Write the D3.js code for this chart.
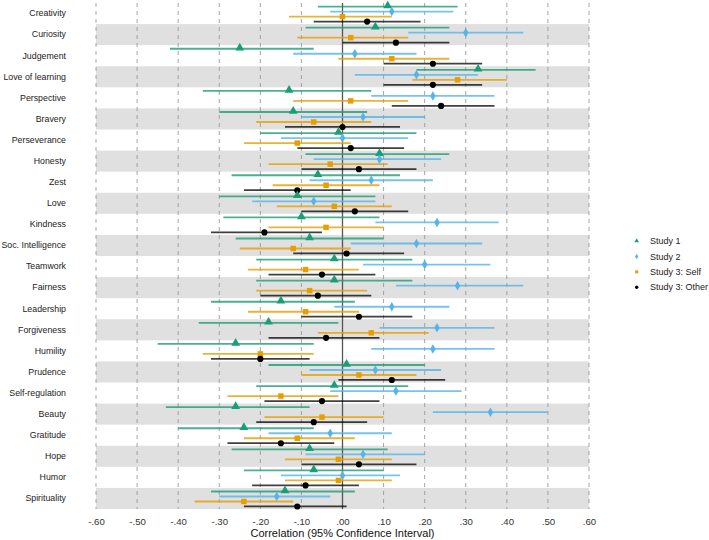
<!DOCTYPE html>
<html lang="en">
<head>
<meta charset="utf-8">
<title>Character strengths forest plot</title>
<script src="https://cdn.jsdelivr.net/npm/d3@7"></script>
<style>
  body { margin: 0; background: #fff; }
  svg { font-family: "Liberation Sans", Arial, sans-serif; }
</style>
</head>
<body>
<script>
// strengths, top to bottom
var strengths = ["Creativity", "Curiosity", "Judgement", "Love of learning", "Perspective",
  "Bravery", "Perseverance", "Honesty", "Zest", "Love", "Kindness", "Soc. Intelligence",
  "Teamwork", "Fairness", "Leadership", "Forgiveness", "Humility", "Prudence",
  "Self-regulation", "Beauty", "Gratitude", "Hope", "Humor", "Spirituality"];

var studies = ["Study 1", "Study 2", "Study 3: Self", "Study 3: Other"];

// Study 1
var s1Est = [0.11, 0.08, -0.25, 0.33, -0.13, -0.12, -0.01, 0.09, -0.06, -0.11, -0.10, -0.08,
  -0.02, -0.02, -0.15, -0.18, -0.26, 0.01, -0.02, -0.26, -0.24, -0.08, -0.07, -0.14];
var s1Lo = [-0.06, -0.09, -0.42, 0.18, -0.34, -0.30, -0.20, -0.09, -0.27, -0.30, -0.29, -0.26,
  -0.21, -0.21, -0.32, -0.35, -0.45, -0.18, -0.21, -0.43, -0.40, -0.27, -0.24, -0.32];
var s1Hi = [0.28, 0.26, -0.07, 0.47, 0.07, 0.06, 0.18, 0.26, 0.14, 0.08, 0.09, 0.10,
  0.17, 0.17, 0.03, -0.01, -0.07, 0.20, 0.16, -0.08, -0.07, 0.11, 0.10, 0.03];

// Study 2
var s2Est = [0.12, 0.30, 0.03, 0.18, 0.22, 0.05, 0.00, 0.09, 0.07, -0.07, 0.23, 0.18,
  0.20, 0.28, 0.12, 0.23, 0.22, 0.08, 0.13, 0.36, -0.03, 0.05, 0.00, -0.16];
var s2Lo = [-0.03, 0.16, -0.12, 0.03, 0.07, -0.10, -0.15, -0.07, -0.08, -0.22, 0.08, 0.02,
  0.05, 0.13, -0.02, 0.09, 0.07, -0.08, -0.03, 0.22, -0.18, -0.09, -0.15, -0.30];
var s2Hi = [0.27, 0.44, 0.18, 0.33, 0.37, 0.20, 0.16, 0.24, 0.22, 0.08, 0.38, 0.34,
  0.36, 0.44, 0.26, 0.37, 0.37, 0.24, 0.29, 0.50, 0.12, 0.20, 0.14, -0.03];

// Study 3: Self
var selfEst = [0.00, 0.02, 0.12, 0.28, 0.02, -0.07, -0.11, -0.03, -0.04, -0.02, -0.04, -0.12,
  -0.09, -0.08, -0.09, 0.07, -0.20, 0.04, -0.15, -0.05, -0.11, -0.01, -0.01, -0.24];
var selfLo = [-0.13, -0.11, -0.01, 0.17, -0.12, -0.21, -0.24, -0.18, -0.17, -0.16, -0.18, -0.25,
  -0.23, -0.21, -0.23, -0.06, -0.34, -0.10, -0.28, -0.19, -0.24, -0.14, -0.14, -0.36];
var selfHi = [0.12, 0.16, 0.26, 0.40, 0.16, 0.07, 0.02, 0.11, 0.09, 0.12, 0.10, 0.02,
  0.04, 0.06, 0.04, 0.21, -0.07, 0.18, -0.01, 0.10, 0.03, 0.12, 0.12, -0.12];

// Study 3: Other
var otherEst = [0.06, 0.13, 0.22, 0.22, 0.24, 0.00, 0.02, 0.04, -0.11, 0.03, -0.19, 0.01,
  -0.05, -0.06, 0.04, -0.04, -0.20, 0.12, -0.05, -0.07, -0.15, 0.04, -0.09, -0.11];
var otherLo = [-0.07, 0.00, 0.10, 0.10, 0.12, -0.14, -0.11, -0.10, -0.24, -0.10, -0.32, -0.12,
  -0.18, -0.20, -0.10, -0.18, -0.32, -0.01, -0.19, -0.21, -0.28, -0.10, -0.22, -0.24];
var otherHi = [0.19, 0.26, 0.34, 0.34, 0.37, 0.14, 0.15, 0.18, 0.02, 0.16, -0.05, 0.15,
  0.08, 0.07, 0.17, 0.09, -0.08, 0.25, 0.09, 0.06, -0.02, 0.18, 0.04, 0.01];

var xTicks = [-0.6, -0.5, -0.4, -0.3, -0.2, -0.1, 0, 0.1, 0.2, 0.3, 0.4, 0.5, 0.6];

var colors = ["#1b9e77", "#56b4e9", "#e69f00", "#000000"];
var shapes = [d3.symbolTriangle, d3.symbolDiamond, d3.symbolSquare, d3.symbolCircle];
var sizes = [34, 26, 30, 30];

var est = [s1Est, s2Est, selfEst, otherEst];
var lo = [s1Lo, s2Lo, selfLo, otherLo];
var hi = [s1Hi, s2Hi, selfHi, otherHi];

var data = [];
strengths.forEach(function(s, i) {
  studies.forEach(function(st, j) {
    data.push({ strength: s, study: st, k: j, est: est[j][i], lo: lo[j][i], hi: hi[j][i] });
  });
});

var width = 709, height = 540;
var svg = d3.select("body").append("svg")
  .attr("width", width)
  .attr("height", height);

var x = d3.scaleLinear().domain([-0.6, 0.6]).range([96, 589]);
var y = d3.scaleBand().domain(strengths).range([3, 509]);
var yIn = d3.scalePoint().domain(studies)
  .range([y.bandwidth() * 0.17, y.bandwidth() * 0.88]);

// alternating bands
svg.append("g").selectAll("rect")
  .data(strengths.filter(function(d, i) { return i % 2 == 1; }))
  .enter().append("rect")
  .attr("x", x(-0.6))
  .attr("width", x(0.6) - x(-0.6))
  .attr("y", function(d) { return y(d); })
  .attr("height", y.bandwidth())
  .attr("fill", "#e0e0e0");

// dashed grid
svg.append("g").selectAll("line")
  .data(xTicks)
  .enter().append("line")
  .attr("x1", function(d) { return x(d); })
  .attr("x2", function(d) { return x(d); })
  .attr("y1", 3).attr("y2", 509)
  .attr("stroke", "#9a9a9a")
  .attr("stroke-width", 0.9)
  .attr("stroke-dasharray", "4,4");

// zero line
svg.append("line")
  .attr("x1", x(0)).attr("x2", x(0))
  .attr("y1", 3).attr("y2", 509)
  .attr("stroke", "#555")
  .attr("stroke-width", 1.3);

function yPos(d) { return y(d.strength) + yIn(d.study); }

// CIs
svg.append("g").selectAll("line")
  .data(data)
  .enter().append("line")
  .attr("x1", function(d) { return x(d.lo); })
  .attr("x2", function(d) { return x(d.hi); })
  .attr("y1", yPos).attr("y2", yPos)
  .attr("stroke", function(d) { return colors[d.k]; })
  .attr("stroke-opacity", function(d) { return d.k == 3 ? 0.75 : 0.8; })
  .attr("stroke-width", 1.8);

// points
svg.append("g").selectAll("path")
  .data(data)
  .enter().append("path")
  .attr("transform", function(d) { return "translate(" + x(d.est) + "," + (yPos(d) + (d.k == 0 ? -0.8 : 0)) + ")"; })
  .attr("d", function(d) { return d3.symbol().type(shapes[d.k]).size(sizes[d.k])(); })
  .attr("fill", function(d) { return colors[d.k]; });

// row labels
var yAxis = d3.axisLeft(y).tickSize(0).tickPadding(30);
var gy = svg.append("g").attr("transform", "translate(96,0)").call(yAxis);
gy.select(".domain").remove();
gy.selectAll("text").attr("font-size", 8.8).attr("fill", "#222")
  .attr("font-family", "Liberation Sans, Arial, sans-serif");

// x axis
function fmt(v) {
  var s = d3.format(".2f")(Math.abs(v)).replace(/^0/, "");
  return (v < -1e-9 ? "-" : "") + s;
}
var xAxis = d3.axisBottom(x).tickValues(xTicks).tickFormat(fmt).tickSize(0).tickPadding(9);
var gx = svg.append("g").attr("transform", "translate(0,509)").call(xAxis);
gx.select(".domain").remove();
gx.selectAll("text").attr("font-size", 9.6).attr("fill", "#333")
  .attr("font-family", "Liberation Sans, Arial, sans-serif");

svg.append("text")
  .attr("x", (x(-0.6) + x(0.6)) / 2)
  .attr("y", 537)
  .attr("text-anchor", "middle")
  .attr("font-size", 11)
  .attr("fill", "#111")
  .text("Correlation (95% Confidence Interval)");

// legend
var legY = d3.scalePoint().domain(studies).range([241, 287.3]);
var leg = svg.append("g").selectAll("g")
  .data(studies)
  .enter().append("g")
  .attr("transform", function(d) { return "translate(636.7," + legY(d) + ")"; });
leg.append("path")
  .attr("d", function(d, i) { return d3.symbol().type(shapes[i]).size(9)(); })
  .attr("fill", function(d, i) { return colors[i]; });
leg.append("text")
  .attr("x", 13.3)
  .attr("dy", "0.35em")
  .attr("font-size", 9)
  .attr("fill", "#222")
  .text(function(d) { return d; });
</script>
</body>
</html>
